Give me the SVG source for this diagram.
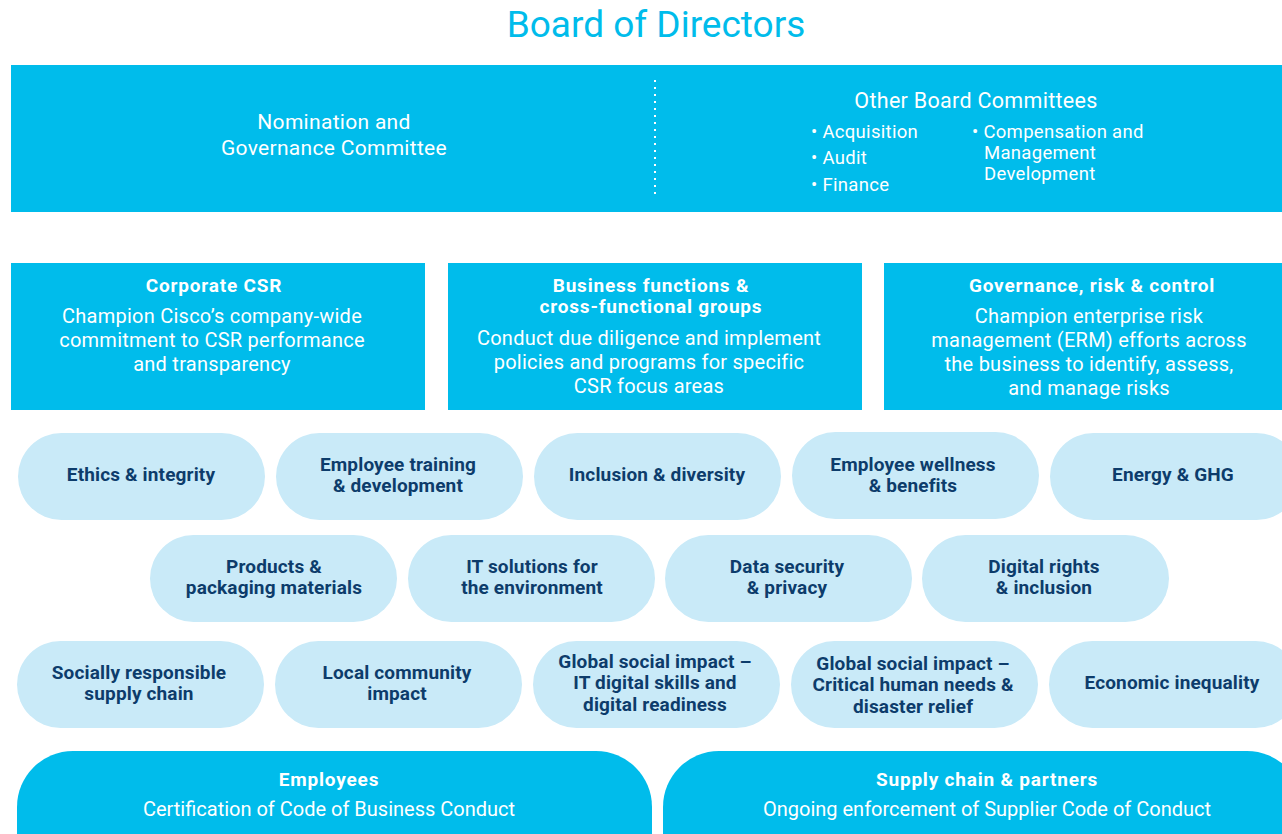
<svg xmlns="http://www.w3.org/2000/svg" width="1282" height="834" viewBox="0 0 1282 834">
<style>
.t{font-family:Roboto,"Liberation Sans",sans-serif}
.blue{fill:#00bceb}
.pill{fill:#c9eaf8}
.wt{fill:#ffffff;font-family:Roboto,"Liberation Sans",sans-serif;text-anchor:middle}
.pt{fill:#0d3c6b;font-family:Roboto,"Liberation Sans",sans-serif;font-weight:700;font-size:19px;letter-spacing:0.15px;text-anchor:middle}
.bt{font-weight:700;font-size:19px;letter-spacing:0.8px}
.bd{font-size:20px;letter-spacing:0.25px}
.bb{font-size:20px;letter-spacing:0px}
</style>
<rect width="1282" height="834" fill="#ffffff"/>
<text x="656" y="37" class="t" font-size="37" fill="#00bceb" text-anchor="middle">Board of Directors</text>

<g id="board">
<rect x="11" y="65" width="1271" height="147" class="blue"/>
<line x1="655" y1="80" x2="655" y2="198" stroke="#ffffff" stroke-width="2" stroke-dasharray="2,5"/>
<text class="wt" font-size="21" letter-spacing="0.3"><tspan x="334" y="129">Nomination and</tspan><tspan x="334" y="155">Governance Committee</tspan></text>
<text class="wt" font-size="21.5" letter-spacing="0.3" x="976" y="108">Other Board Committees</text>
<g class="t" font-size="18.5" letter-spacing="0.3" fill="#ffffff">
<text x="811" y="138">• Acquisition</text>
<text x="811" y="164">• Audit</text>
<text x="811" y="191">• Finance</text>
<text x="972" y="138">• Compensation and</text>
<text x="984" y="159">Management</text>
<text x="984" y="180">Development</text>
</g>
</g>

<g id="corporate-csr">
<rect x="11" y="263" width="414" height="147" class="blue"/>
<text class="wt bt" x="214" y="292">Corporate CSR</text>
<text class="wt bd"><tspan x="212" y="323">Champion Cisco’s company-wide</tspan><tspan x="212" y="347">commitment to CSR performance</tspan><tspan x="212" y="371">and transparency</tspan></text>
</g>
<g id="business-functions">
<rect x="448" y="263" width="414" height="147" class="blue"/>
<text class="wt bt"><tspan x="651" y="292">Business functions &amp;</tspan><tspan x="651" y="313">cross-functional groups</tspan></text>
<text class="wt bd"><tspan x="649" y="345">Conduct due diligence and implement</tspan><tspan x="649" y="369">policies and programs for specific</tspan><tspan x="649" y="393">CSR focus areas</tspan></text>
</g>
<g id="governance-risk">
<rect x="884" y="263" width="398" height="147" class="blue"/>
<text class="wt bt" x="1092" y="292">Governance, risk &amp; control</text>
<text class="wt bd"><tspan x="1089" y="323">Champion enterprise risk</tspan><tspan x="1089" y="347">management (ERM) efforts across</tspan><tspan x="1089" y="371">the business to identify, assess,</tspan><tspan x="1089" y="395">and manage risks</tspan></text>
</g>

<g id="p-ethics"><rect x="18" y="433" width="247" height="87" rx="43.5" class="pill"/><text class="pt" x="141" y="481">Ethics &amp; integrity</text></g>
<g id="p-training"><rect x="276" y="433" width="247" height="87" rx="43.5" class="pill"/><text class="pt"><tspan x="398" y="471">Employee training</tspan><tspan x="398" y="492">&amp; development</tspan></text></g>
<g id="p-inclusion"><rect x="534" y="433" width="247" height="87" rx="43.5" class="pill"/><text class="pt" x="657" y="481">Inclusion &amp; diversity</text></g>
<g id="p-wellness"><rect x="792" y="432" width="247" height="87" rx="43.5" class="pill"/><text class="pt"><tspan x="913" y="471">Employee wellness</tspan><tspan x="913" y="492">&amp; benefits</tspan></text></g>
<g id="p-energy"><rect x="1050" y="433" width="250" height="87" rx="43.5" class="pill"/><text class="pt" x="1173" y="481">Energy &amp; GHG</text></g>

<g id="p-products"><rect x="150" y="535" width="247" height="87" rx="43.5" class="pill"/><text class="pt"><tspan x="274" y="573">Products &amp;</tspan><tspan x="274" y="594">packaging materials</tspan></text></g>
<g id="p-it"><rect x="408" y="535" width="247" height="87" rx="43.5" class="pill"/><text class="pt"><tspan x="532" y="573">IT solutions for</tspan><tspan x="532" y="594">the environment</tspan></text></g>
<g id="p-data"><rect x="665" y="535" width="247" height="87" rx="43.5" class="pill"/><text class="pt"><tspan x="787" y="573">Data security</tspan><tspan x="787" y="594">&amp; privacy</tspan></text></g>
<g id="p-digital"><rect x="922" y="535" width="247" height="87" rx="43.5" class="pill"/><text class="pt"><tspan x="1044" y="573">Digital rights</tspan><tspan x="1044" y="594">&amp; inclusion</tspan></text></g>

<g id="p-supply"><rect x="17" y="641" width="247" height="87" rx="43.5" class="pill"/><text class="pt"><tspan x="139" y="679">Socially responsible</tspan><tspan x="139" y="700">supply chain</tspan></text></g>
<g id="p-local"><rect x="275" y="641" width="247" height="87" rx="43.5" class="pill"/><text class="pt"><tspan x="397" y="679">Local community</tspan><tspan x="397" y="700">impact</tspan></text></g>
<g id="p-gsi-it"><rect x="533" y="641" width="247" height="87" rx="43.5" class="pill"/><text class="pt"><tspan x="655" y="668">Global social impact –</tspan><tspan x="655" y="689">IT digital skills and</tspan><tspan x="655" y="711">digital readiness</tspan></text></g>
<g id="p-gsi-needs"><rect x="791" y="641" width="247" height="87" rx="43.5" class="pill"/><text class="pt"><tspan x="913" y="670">Global social impact –</tspan><tspan x="913" y="691">Critical human needs &amp;</tspan><tspan x="913" y="713">disaster relief</tspan></text></g>
<g id="p-econ"><rect x="1049" y="641" width="250" height="87" rx="43.5" class="pill"/><text class="pt" x="1172" y="689">Economic inequality</text></g>

<g id="employees">
<rect x="17" y="751" width="635" height="140" rx="56" class="blue"/>
<text class="wt bt" x="329" y="786">Employees</text>
<text class="wt bb" x="329" y="816">Certification of Code of Business Conduct</text>
</g>
<g id="supply-chain">
<rect x="663" y="751" width="640" height="140" rx="56" class="blue"/>
<text class="wt bt" x="987" y="786">Supply chain &amp; partners</text>
<text class="wt bb" x="987" y="816">Ongoing enforcement of Supplier Code of Conduct</text>
</g>
<g id="connectors"></g>
</svg>
